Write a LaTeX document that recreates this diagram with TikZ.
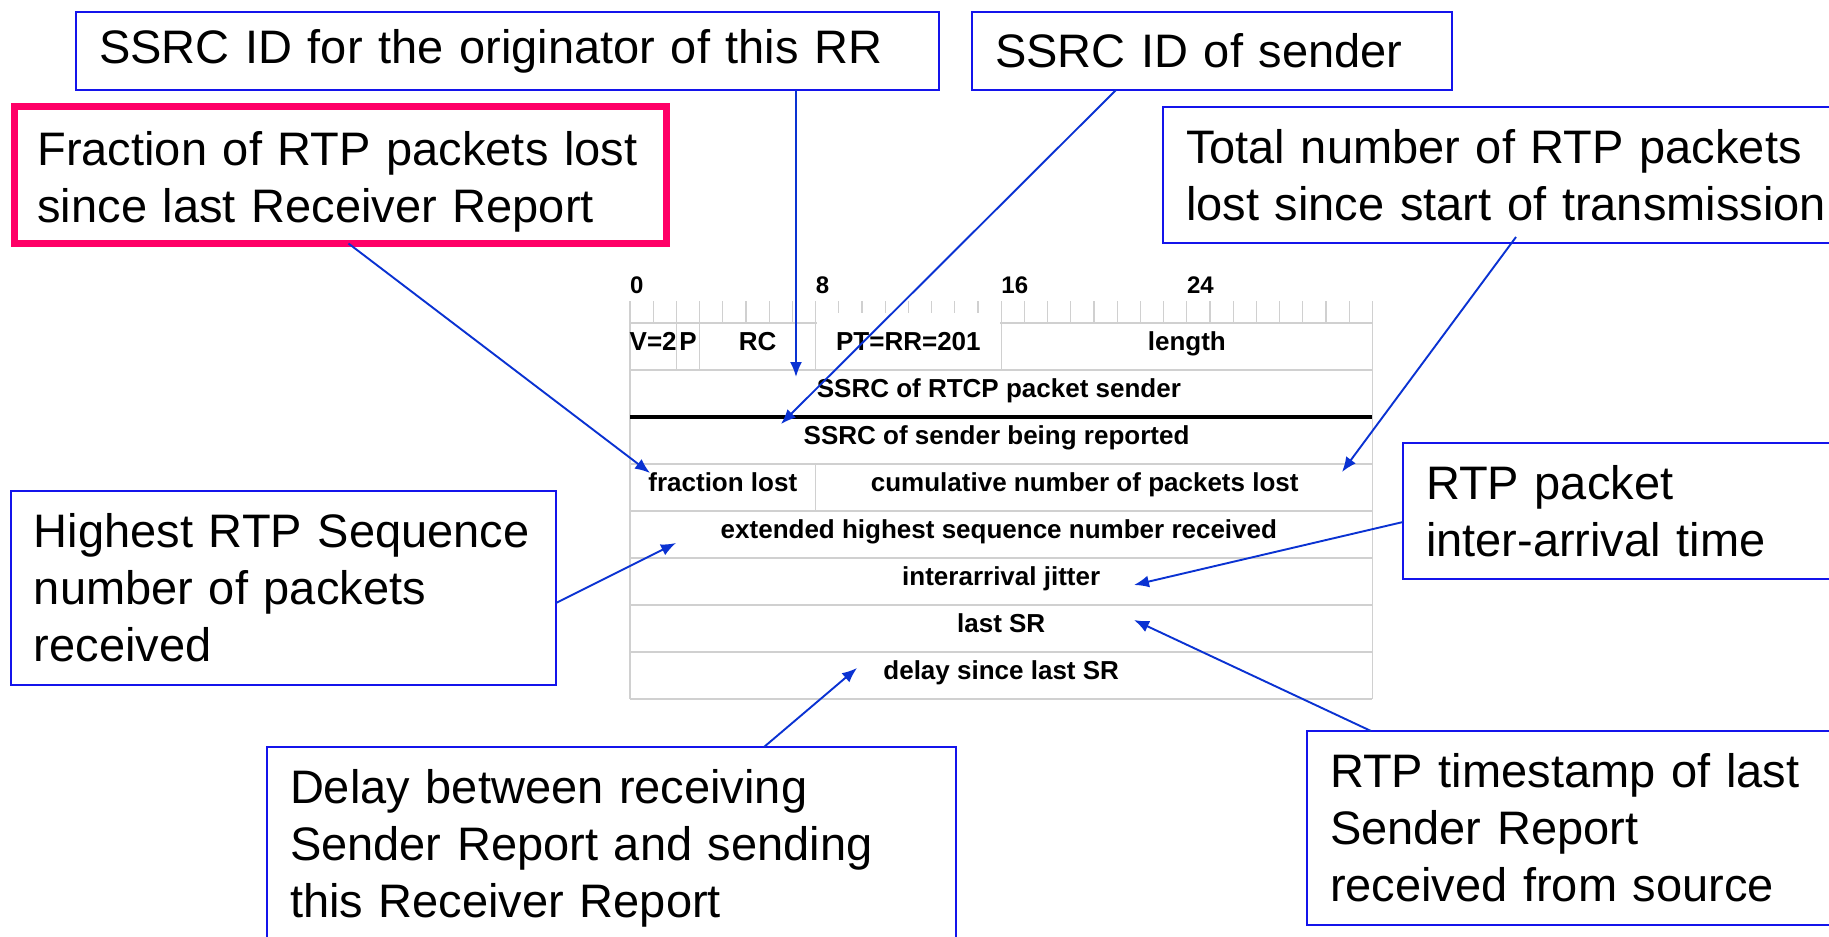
\documentclass[tikz,border=0pt]{standalone}
\usepackage{fontspec}
\setmainfont{Liberation Sans}
\usetikzlibrary{arrows.meta}
\definecolor{boxblue}{RGB}{20,20,235}
\definecolor{arrblue}{RGB}{10,50,210}
\definecolor{hotred}{RGB}{255,0,102}
\definecolor{gridgrey}{RGB}{208,208,208}
\tikzset{
  callout/.style={draw=boxblue,line width=2.5pt,anchor=north west,outer sep=0pt,
    inner xsep=23pt,align=left,font=\fontsize{47}{57}\selectfont},
  pointer/.style={arrblue,line width=1.9pt,-{Latex[length=15pt,width=12pt]}},
  grid/.style={gridgrey,line width=1.3pt},
  field/.style={anchor=base,inner sep=0pt,font=\fontsize{26}{30}\selectfont\bfseries},
  bitnum/.style={anchor=base west,inner sep=0pt,font=\fontsize{24}{28}\selectfont\bfseries}
}
\begin{document}
\begin{tikzpicture}[x=1pt,y=-1pt]
  % Definitions
  \def\bw{23.2}
  \def\rh{47}
  \def\tx{630}
  \def\ty{323}
  \path[fill=white,use as bounding box] (0,0) rectangle (1829,937);
  % Ruler
  \foreach \b in {0,...,32}
    \draw[grid] (\tx+\b*\bw,301) -- (\tx+\b*\bw,\ty);
  \foreach \b in {0,8,16,24}
    \node[bitnum] (bit\b) at (\tx+\b*\bw,293) {\b};
  % Rows and dividers
  \foreach \r in {0,1,3,4,5,6,7,8}
    \draw[grid] (\tx,\ty+\r*\rh) -- (\tx+32*\bw,\ty+\r*\rh);
  \foreach \b in {0,32}
    \draw[grid] (\tx+\b*\bw,\ty) -- (\tx+\b*\bw,\ty+8*\rh);
  \foreach \b in {2,3,8,16}
    \draw[grid] (\tx+\b*\bw,\ty) -- (\tx+\b*\bw,\ty+\rh);
  \draw[grid] (\tx+8*\bw,\ty+3*\rh) -- (\tx+8*\bw,\ty+4*\rh);
  \draw[line width=4pt] (\tx,\ty+2*\rh) -- (\tx+32*\bw,\ty+2*\rh);
  \fill[white] (\tx+8*\bw+1,313) rectangle (\tx+16*\bw-1,\ty+\rh-1);
  % Field labels
  \node[field] (f-ver) at (\tx+1*\bw,\ty+27) {V=2};
  \node[field] (f-pad) at (\tx+2.5*\bw,\ty+27) {P};
  \node[field] (f-rc) at (\tx+5.5*\bw,\ty+27) {RC};
  \node[field] (f-pt) at (\tx+12*\bw,\ty+27) {PT=RR=201};
  \node[field] (f-len) at (\tx+24*\bw,\ty+27) {length};
  \node[field] (f-ssrc) at (\tx+15.9*\bw,\ty+\rh+27) {SSRC of RTCP packet sender};
  \node[field] (f-src) at (\tx+15.8*\bw,\ty+2*\rh+27) {SSRC of sender being reported};
  \node[field] (f-frac) at (\tx+4*\bw,\ty+3*\rh+27) {fraction lost};
  \node[field] (f-cum) at (\tx+19.6*\bw,\ty+3*\rh+27) {cumulative number of packets lost};
  \node[field] (f-ext) at (\tx+15.9*\bw,\ty+4*\rh+27) {extended highest sequence number received};
  \node[field] (f-jit) at (\tx+16*\bw,\ty+5*\rh+27) {interarrival jitter};
  \node[field] (f-lsr) at (\tx+16*\bw,\ty+6*\rh+27) {last SR};
  \node[field] (f-dlsr) at (\tx+16*\bw,\ty+7*\rh+27) {delay since last SR};
  % Callouts
  \node[callout,text width=817pt,minimum height=78pt] (orig) at (76,12)
    {\mbox{SSRC ID for the originator of this RR}};
  \node[callout,text width=434pt,minimum height=78pt] (sndr) at (972,12)
    {\mbox{SSRC ID of sender}};
  \node[callout,draw=hotred,line width=7.5pt,text width=606pt,minimum height=137pt] (frac) at (14.5,106.5)
    {\rule{0pt}{48pt}\mbox{Fraction of RTP packets lost}\\\mbox{since last Receiver Report}};
  \node[callout,text width=654pt,minimum height=136pt] (total) at (1163,107)
    {\mbox{Total number of RTP packets}\\\mbox{lost since start of transmission}};
  \node[callout,text width=499pt,minimum height=194pt] (high) at (11,491)
    {\mbox{Highest RTP Sequence}\\\mbox{number of packets}\\received};
  \node[callout,text width=500pt,minimum height=136pt] (jit) at (1403,443)
    {\mbox{RTP packet}\\\mbox{inter-arrival time}};
  \node[callout,text width=643pt,minimum height=203pt] (dlsr) at (267,747)
    {\mbox{Delay between receiving}\\\mbox{Sender Report and sending}\\\mbox{this Receiver Report}};
  \node[callout,text width=560pt,minimum height=194pt] (lsr) at (1307,731)
    {\mbox{RTP timestamp of last}\\\mbox{Sender Report}\\\mbox{received from source}};
  % Pointers
  \coordinate (t-ssrc) at (796,377);
  \coordinate (t-src) at (781,424);
  \coordinate (t-frac) at (650,473);
  \coordinate (t-cum) at (1342,472);
  \coordinate (t-ext) at (676,543);
  \coordinate (t-jit) at (1134,585);
  \coordinate (t-lsr) at (1134,620);
  \coordinate (t-dlsr) at (857,668);
  \draw[pointer] (orig.south -| t-ssrc) -- (t-ssrc);
  \draw[pointer] ([xshift=144pt]sndr.south west) -- (t-src);
  \draw[pointer] ([xshift=334pt]frac.south west) -- (t-frac);
  \draw[pointer] ([xshift=353pt,yshift=6pt]total.south west) -- (t-cum);
  \draw[pointer] ([yshift=-112pt]high.north east) -- (t-ext);
  \draw[pointer] ([yshift=-79pt]jit.north west) -- (t-jit);
  \draw[pointer] ([xshift=64pt]lsr.north west) -- (t-lsr);
  \draw[pointer] ([xshift=497pt]dlsr.north west) -- (t-dlsr);
\end{tikzpicture}
\end{document}
